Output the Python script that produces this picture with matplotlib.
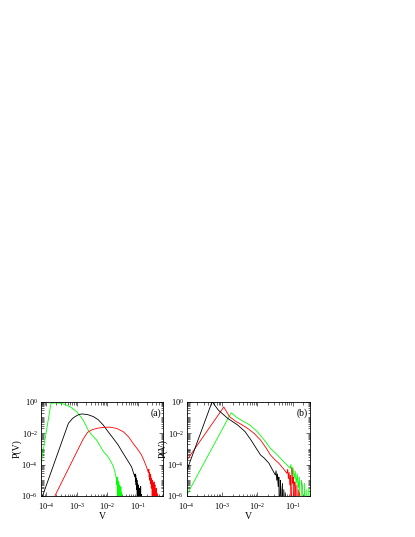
import numpy as np
import matplotlib
matplotlib.use("Agg")
import matplotlib.pyplot as plt
from matplotlib.ticker import LogLocator, LogFormatterMathtext, NullFormatter, FixedLocator

plt.rcParams['font.family'] = ['Liberation Serif', 'DejaVu Serif']
plt.rcParams['mathtext.fontset'] = 'stix'

# ---------------- data (log10 values) ----------------
# Panel (a)
a_green_logV = [-4.25, -3.85, -3.70, -3.55, -3.40, -3.20, -3.00, -2.80, -2.63, -2.50, -2.35, -2.20, -2.10,
                -2.00, -1.92, -1.85, -1.80, -1.75, -1.72,
                -1.70, -1.69, -1.68, -1.67, -1.66, -1.65, -1.64, -1.63, -1.62, -1.61, -1.60, -1.59, -1.58,
                -1.57, -1.56, -1.55, -1.54, -1.53]
a_green_logP = [-4.80, -0.10, -0.08, -0.10, -0.17, -0.35, -0.65, -1.15, -1.80, -2.15, -2.45, -2.95, -3.25,
                -3.45, -3.70, -3.95, -4.15, -4.50, -4.80,
                -4.90, -5.30, -4.80, -6.50, -5.00, -5.60, -9.00, -5.10, -5.90, -9.00, -5.30, -9.00, -5.50,
                -9.00, -5.40, -9.00, -9.00, -5.80]

a_black_logV = [-4.20, -3.28, -3.15, -3.06, -2.95, -2.84, -2.65, -2.46, -2.30, -2.14, -2.00, -1.81, -1.65,
                -1.48, -1.35, -1.21, -1.15, -1.10,
                -1.09, -1.08, -1.07, -1.06, -1.05, -1.04, -1.03, -1.02, -1.01, -1.00, -0.99, -0.98, -0.97,
                -0.96, -0.95, -0.94, -0.93, -0.92, -0.91, -0.90, -0.89, -0.88, -0.87]
a_black_logP = [-6.40, -1.38, -1.08, -0.95, -0.83, -0.78, -0.82, -0.95, -1.15, -1.48, -1.85, -2.33, -2.75,
                -3.30, -3.70, -4.14, -4.50, -4.78,
                -4.60, -5.10, -4.70, -5.30, -4.90, -5.60, -5.00, -9.00, -5.20, -5.70, -9.00, -5.30, -9.00,
                -5.50, -9.00, -5.60, -9.00, -9.00, -5.40, -9.00, -9.00, -5.90, -9.00]

a_red_logV = [-3.80, -2.80, -2.65, -2.50, -2.30, -2.10, -1.92, -1.70, -1.48, -1.30, -1.16, -1.00, -0.88,
              -0.80, -0.72, -0.66,
              -0.64, -0.63, -0.62, -0.61, -0.60, -0.59, -0.58, -0.57, -0.56, -0.55, -0.54, -0.53, -0.52,
              -0.51, -0.50, -0.49, -0.48, -0.47, -0.46, -0.45, -0.44, -0.43, -0.42, -0.41, -0.40, -0.39,
              -0.38, -0.37, -0.36, -0.35]
a_red_logP = [-6.30, -2.40, -1.95, -1.78, -1.68, -1.63, -1.62, -1.70, -1.91, -2.25, -2.65, -3.05, -3.40,
              -3.75, -4.14, -4.50,
              -4.30, -4.80, -4.50, -5.00, -4.60, -5.20, -4.70, -5.10, -5.50, -4.90, -5.30, -9.00, -5.00,
              -5.60, -5.20, -9.00, -5.40, -5.10, -9.00, -5.50, -5.30, -9.00, -5.70, -9.00, -5.50, -9.00,
              -5.80, -9.00, -9.00, -5.90]

# Panel (b)
b_black_logV = [-4.05, -3.28, -3.10, -2.84, -2.56, -2.35, -2.18, -2.05, -1.91, -1.80, -1.67, -1.58, -1.49,
                -1.47, -1.45, -1.43, -1.41, -1.39, -1.37, -1.35, -1.33, -1.31, -1.29, -1.27, -1.25, -1.23,
                -1.21]
b_black_logP = [-4.70, 0.00, -0.55, -1.06, -1.48, -1.90, -2.44, -2.90, -3.39, -3.60, -3.92, -4.30, -4.67,
                -4.40, -5.00, -4.60, -5.40, -4.80, -9.00, -5.00, -5.60, -9.00, -5.20, -9.00, -5.60, -9.00,
                -5.80]

b_red_logV = [-4.05, -2.95, -2.79, -2.60, -2.45, -2.28, -2.10, -1.91, -1.75, -1.63, -1.50, -1.39, -1.25,
              -1.16,
              -1.14, -1.12, -1.10, -1.08, -1.06, -1.04, -1.02, -1.00, -0.98, -0.96, -0.94, -0.92, -0.90,
              -0.88, -0.86, -0.84, -0.82, -0.80]
b_red_logP = [-3.90, -0.34, -0.95, -1.27, -1.45, -1.69, -2.00, -2.44, -2.95, -3.39, -3.70, -3.92, -4.30,
              -4.56,
              -4.30, -4.90, -4.50, -5.30, -4.70, -9.00, -4.20, -5.20, -4.80, -9.00, -5.10, -5.50, -9.00,
              -5.30, -9.00, -5.60, -9.00, -5.80]

b_green_logV = [-4.05, -2.74, -2.60, -2.46, -2.20, -2.00, -1.80, -1.63, -1.45, -1.30, -1.15, -1.07,
                -1.05, -1.02, -0.99, -0.96, -0.93, -0.90, -0.87, -0.84, -0.81, -0.78, -0.75, -0.72, -0.69,
                -0.66, -0.63, -0.60, -0.57, -0.54, -0.52]
b_green_logP = [-6.15, -0.70, -0.97, -1.17, -1.50, -1.91, -2.45, -2.97, -3.35, -3.71, -4.05, -4.24,
                -4.00, -4.60, -4.20, -4.90, -4.40, -5.20, -4.60, -5.50, -4.80, -9.00, -5.00, -5.40, -9.00,
                -5.20, -9.00, -5.60, -9.00, -5.50, -9.00]

a_xlim = (6.5e-5, 0.68)
b_xlim = (1.0e-4, 0.31)
ylim = (1e-6, 1.0)
y_major = [1e-6, 1e-4, 1e-2, 1e0]
panel_labels = ["(a)", "(b)"]
colors = {"black": "#000000", "red": "#ff0000", "green": "#00ff00"}

# ---------------- figure ----------------
fig = plt.figure(figsize=(4.15, 5.37), dpi=100)
ax_a = fig.add_axes([0.0981, 0.0764, 0.2954, 0.1756])
ax_b = fig.add_axes([0.4499, 0.0764, 0.2971, 0.1756])

panels = [
    (ax_a, a_xlim, [(a_green_logV, a_green_logP, "green"),
                    (a_black_logV, a_black_logP, "black"),
                    (a_red_logV, a_red_logP, "red")]),
    (ax_b, b_xlim, [(b_green_logV, b_green_logP, "green"),
                    (b_red_logV, b_red_logP, "red"),
                    (b_black_logV, b_black_logP, "black")]),
]

for i, (ax, xl, series) in enumerate(panels):
    for lv, lp, c in series:
        ax.plot(10.0 ** np.array(lv), 10.0 ** np.array(lp), color=colors[c], lw=0.6)
    ax.set_xscale('log')
    ax.set_yscale('log')
    ax.set_xlim(*xl)
    ax.set_ylim(*ylim)
    ax.xaxis.set_major_locator(LogLocator(base=10, numticks=20))
    ax.xaxis.set_minor_locator(LogLocator(base=10, subs=np.arange(2, 10), numticks=20))
    ax.xaxis.set_major_formatter(LogFormatterMathtext())
    ax.xaxis.set_minor_formatter(NullFormatter())
    ax.yaxis.set_major_locator(FixedLocator(y_major))
    ax.yaxis.set_minor_locator(LogLocator(base=10, subs=np.arange(1, 10), numticks=20))
    ax.yaxis.set_major_formatter(LogFormatterMathtext())
    ax.yaxis.set_minor_formatter(NullFormatter())
    ax.tick_params(which='both', direction='in', top=True, right=True, labelsize=6,
                   width=0.5, color='#333333')
    ax.tick_params(axis='x', which='both', pad=3.5)
    ax.tick_params(axis='y', which='both', pad=2)
    ax.tick_params(which='major', length=3)
    ax.tick_params(which='minor', length=1.8)
    for s in ax.spines.values():
        s.set_linewidth(0.6)
    ax.set_xlabel("V", fontsize=7, labelpad=0)
    ax.set_ylabel("P(V)", fontsize=7, labelpad=0)
    ax.text(0.985, 0.88, panel_labels[i], transform=ax.transAxes, ha='right', va='center', fontsize=7)

fig.savefig("out.png", dpi=100)
